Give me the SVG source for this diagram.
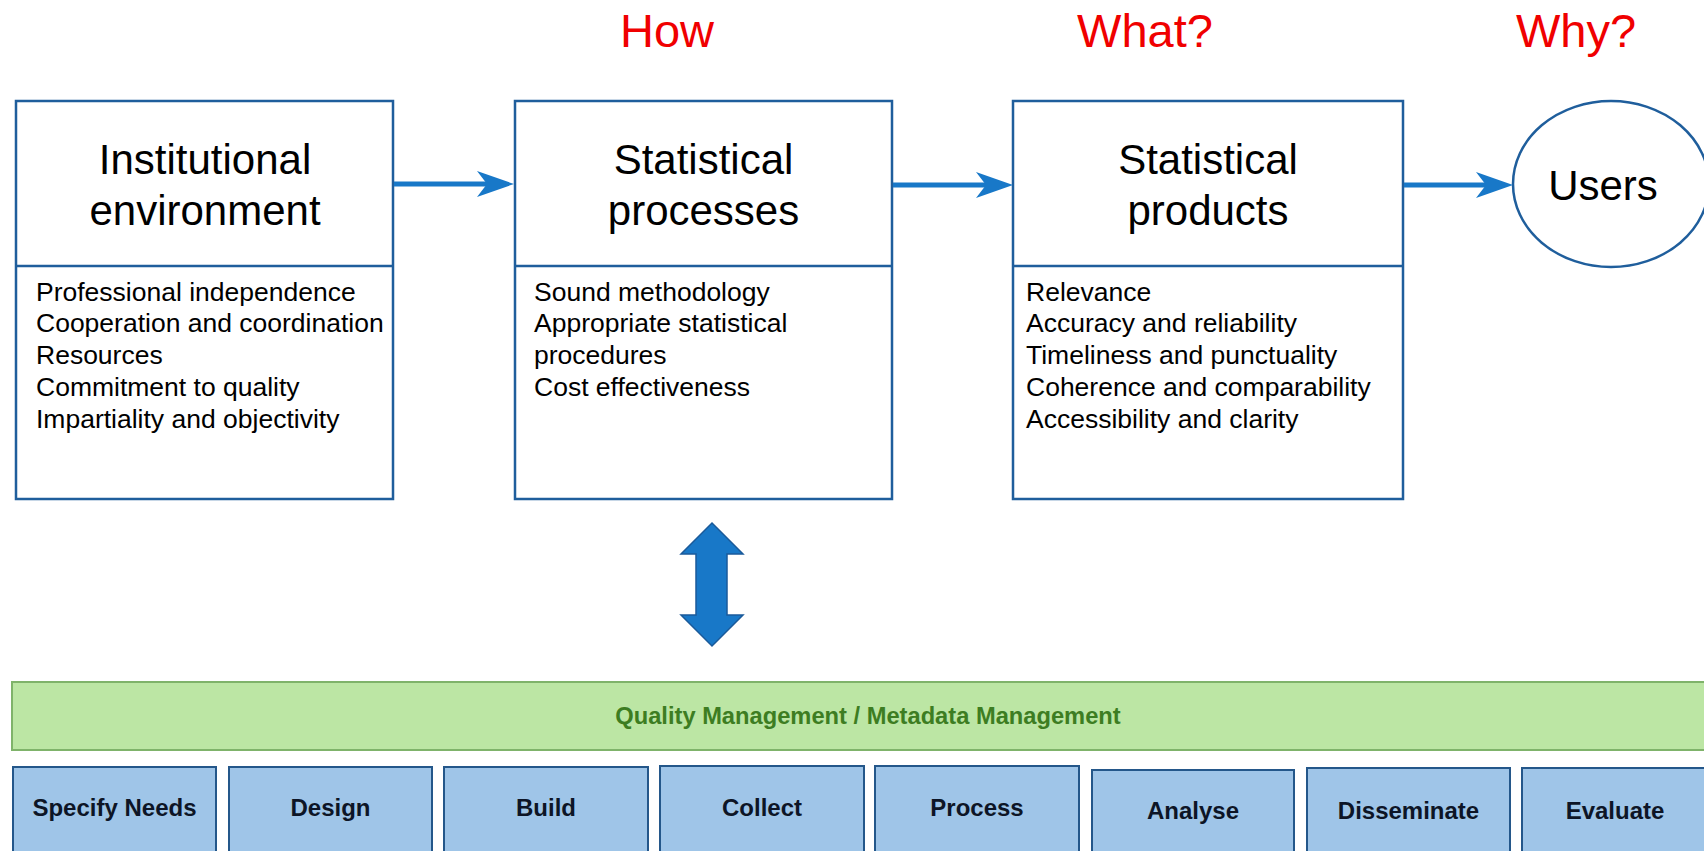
<svg xmlns="http://www.w3.org/2000/svg" width="1704" height="851" viewBox="0 0 1704 851">
<defs>
<style>
.box{fill:#fff;stroke:#1f5e9c;stroke-width:2.5}
.title{font-family:"Liberation Sans",Arial,sans-serif;font-size:42px;fill:#000;text-anchor:middle}
.body{font-family:"Liberation Sans",Arial,sans-serif;font-size:26.5px;fill:#000}
.q{font-family:"Liberation Sans",Arial,sans-serif;font-size:47px;fill:#f00000;text-anchor:middle}
.conn{stroke:#1878c8;stroke-width:5;fill:none}
.step{fill:#9fc5e8;stroke:#24578a;stroke-width:2}
.steptxt{font-family:"Liberation Sans",Arial,sans-serif;font-size:24px;font-weight:bold;fill:#0d1526;text-anchor:middle}
</style>
<marker id="ah" markerUnits="userSpaceOnUse" markerWidth="40" markerHeight="28" refX="11" refY="13" orient="auto">
<path d="M0 0 L37 13 L0 26 L10 13 Z" fill="#1878c8"/>
</marker>
</defs>
<rect width="1704" height="851" fill="#fff"/>

<text class="q" x="667" y="47">How</text>
<text class="q" x="1145" y="47">What?</text>
<text class="q" x="1576" y="47">Why?</text>

<g id="institutional-environment">
<rect class="box" x="16" y="101" width="377" height="398"/>
<line class="box" x1="16" y1="266" x2="393" y2="266"/>
<text class="title" x="205" y="174">Institutional</text>
<text class="title" x="205" y="225">environment</text>
<text class="body" x="36" y="301">Professional independence</text>
<text class="body" x="36" y="332">Cooperation and coordination</text>
<text class="body" x="36" y="364">Resources</text>
<text class="body" x="36" y="396">Commitment to quality</text>
<text class="body" x="36" y="428">Impartiality and objectivity</text>
</g>

<g id="statistical-processes">
<rect class="box" x="515" y="101" width="377" height="398"/>
<line class="box" x1="515" y1="266" x2="892" y2="266"/>
<text class="title" x="703.5" y="174">Statistical</text>
<text class="title" x="703.5" y="225">processes</text>
<text class="body" x="534" y="301">Sound methodology</text>
<text class="body" x="534" y="332">Appropriate statistical</text>
<text class="body" x="534" y="364">procedures</text>
<text class="body" x="534" y="396">Cost effectiveness</text>
</g>

<g id="statistical-products">
<rect class="box" x="1013" y="101" width="390" height="398"/>
<line class="box" x1="1013" y1="266" x2="1403" y2="266"/>
<text class="title" x="1208" y="174">Statistical</text>
<text class="title" x="1208" y="225">products</text>
<text class="body" x="1026" y="301">Relevance</text>
<text class="body" x="1026" y="332">Accuracy and reliability</text>
<text class="body" x="1026" y="364">Timeliness and punctuality</text>
<text class="body" x="1026" y="396">Coherence and comparability</text>
<text class="body" x="1026" y="428">Accessibility and clarity</text>
</g>

<g id="users">
<ellipse cx="1611" cy="184" rx="98" ry="83" fill="#fff" stroke="#1f5e9c" stroke-width="2.5"/>
<text class="title" x="1603" y="200">Users</text>
</g>

<g id="connectors">
<line class="conn" x1="394" y1="184" x2="488" y2="184" marker-end="url(#ah)"/>
<line class="conn" x1="893" y1="185" x2="987" y2="185" marker-end="url(#ah)"/>
<line class="conn" x1="1404" y1="185" x2="1487" y2="185" marker-end="url(#ah)"/>
<polygon points="712,523 743,554 727,554 727,615 743,615 712,646 681,615 696,615 696,554 681,554" fill="#1878c8" stroke="#1a5a9a" stroke-width="1.5"/>
</g>

<g id="quality-management">
<rect x="12" y="682" width="1700" height="68" fill="#bce6a4" stroke="#7fb36a" stroke-width="2"/>
<text x="868" y="724" font-family="'Liberation Sans',Arial,sans-serif" font-size="23.7" font-weight="bold" fill="#3d7d22" text-anchor="middle">Quality Management / Metadata Management</text>
</g>

<g id="specify-needs"><rect class="step" x="13" y="767" width="203" height="95"/><text class="steptxt" x="114.5" y="816">Specify Needs</text></g>
<g id="design"><rect class="step" x="229" y="767" width="203" height="95"/><text class="steptxt" x="330.5" y="816">Design</text></g>
<g id="build"><rect class="step" x="444" y="767" width="204" height="95"/><text class="steptxt" x="546" y="816">Build</text></g>
<g id="collect"><rect class="step" x="660" y="766" width="204" height="95"/><text class="steptxt" x="762" y="816">Collect</text></g>
<g id="process"><rect class="step" x="875" y="766" width="204" height="95"/><text class="steptxt" x="977" y="816">Process</text></g>
<g id="analyse"><rect class="step" x="1092" y="770" width="202" height="95"/><text class="steptxt" x="1193" y="819">Analyse</text></g>
<g id="disseminate"><rect class="step" x="1307" y="768" width="203" height="95"/><text class="steptxt" x="1408.5" y="819">Disseminate</text></g>
<g id="evaluate"><rect class="step" x="1522" y="768" width="200" height="95"/><text class="steptxt" x="1615" y="819">Evaluate</text></g>
</svg>
